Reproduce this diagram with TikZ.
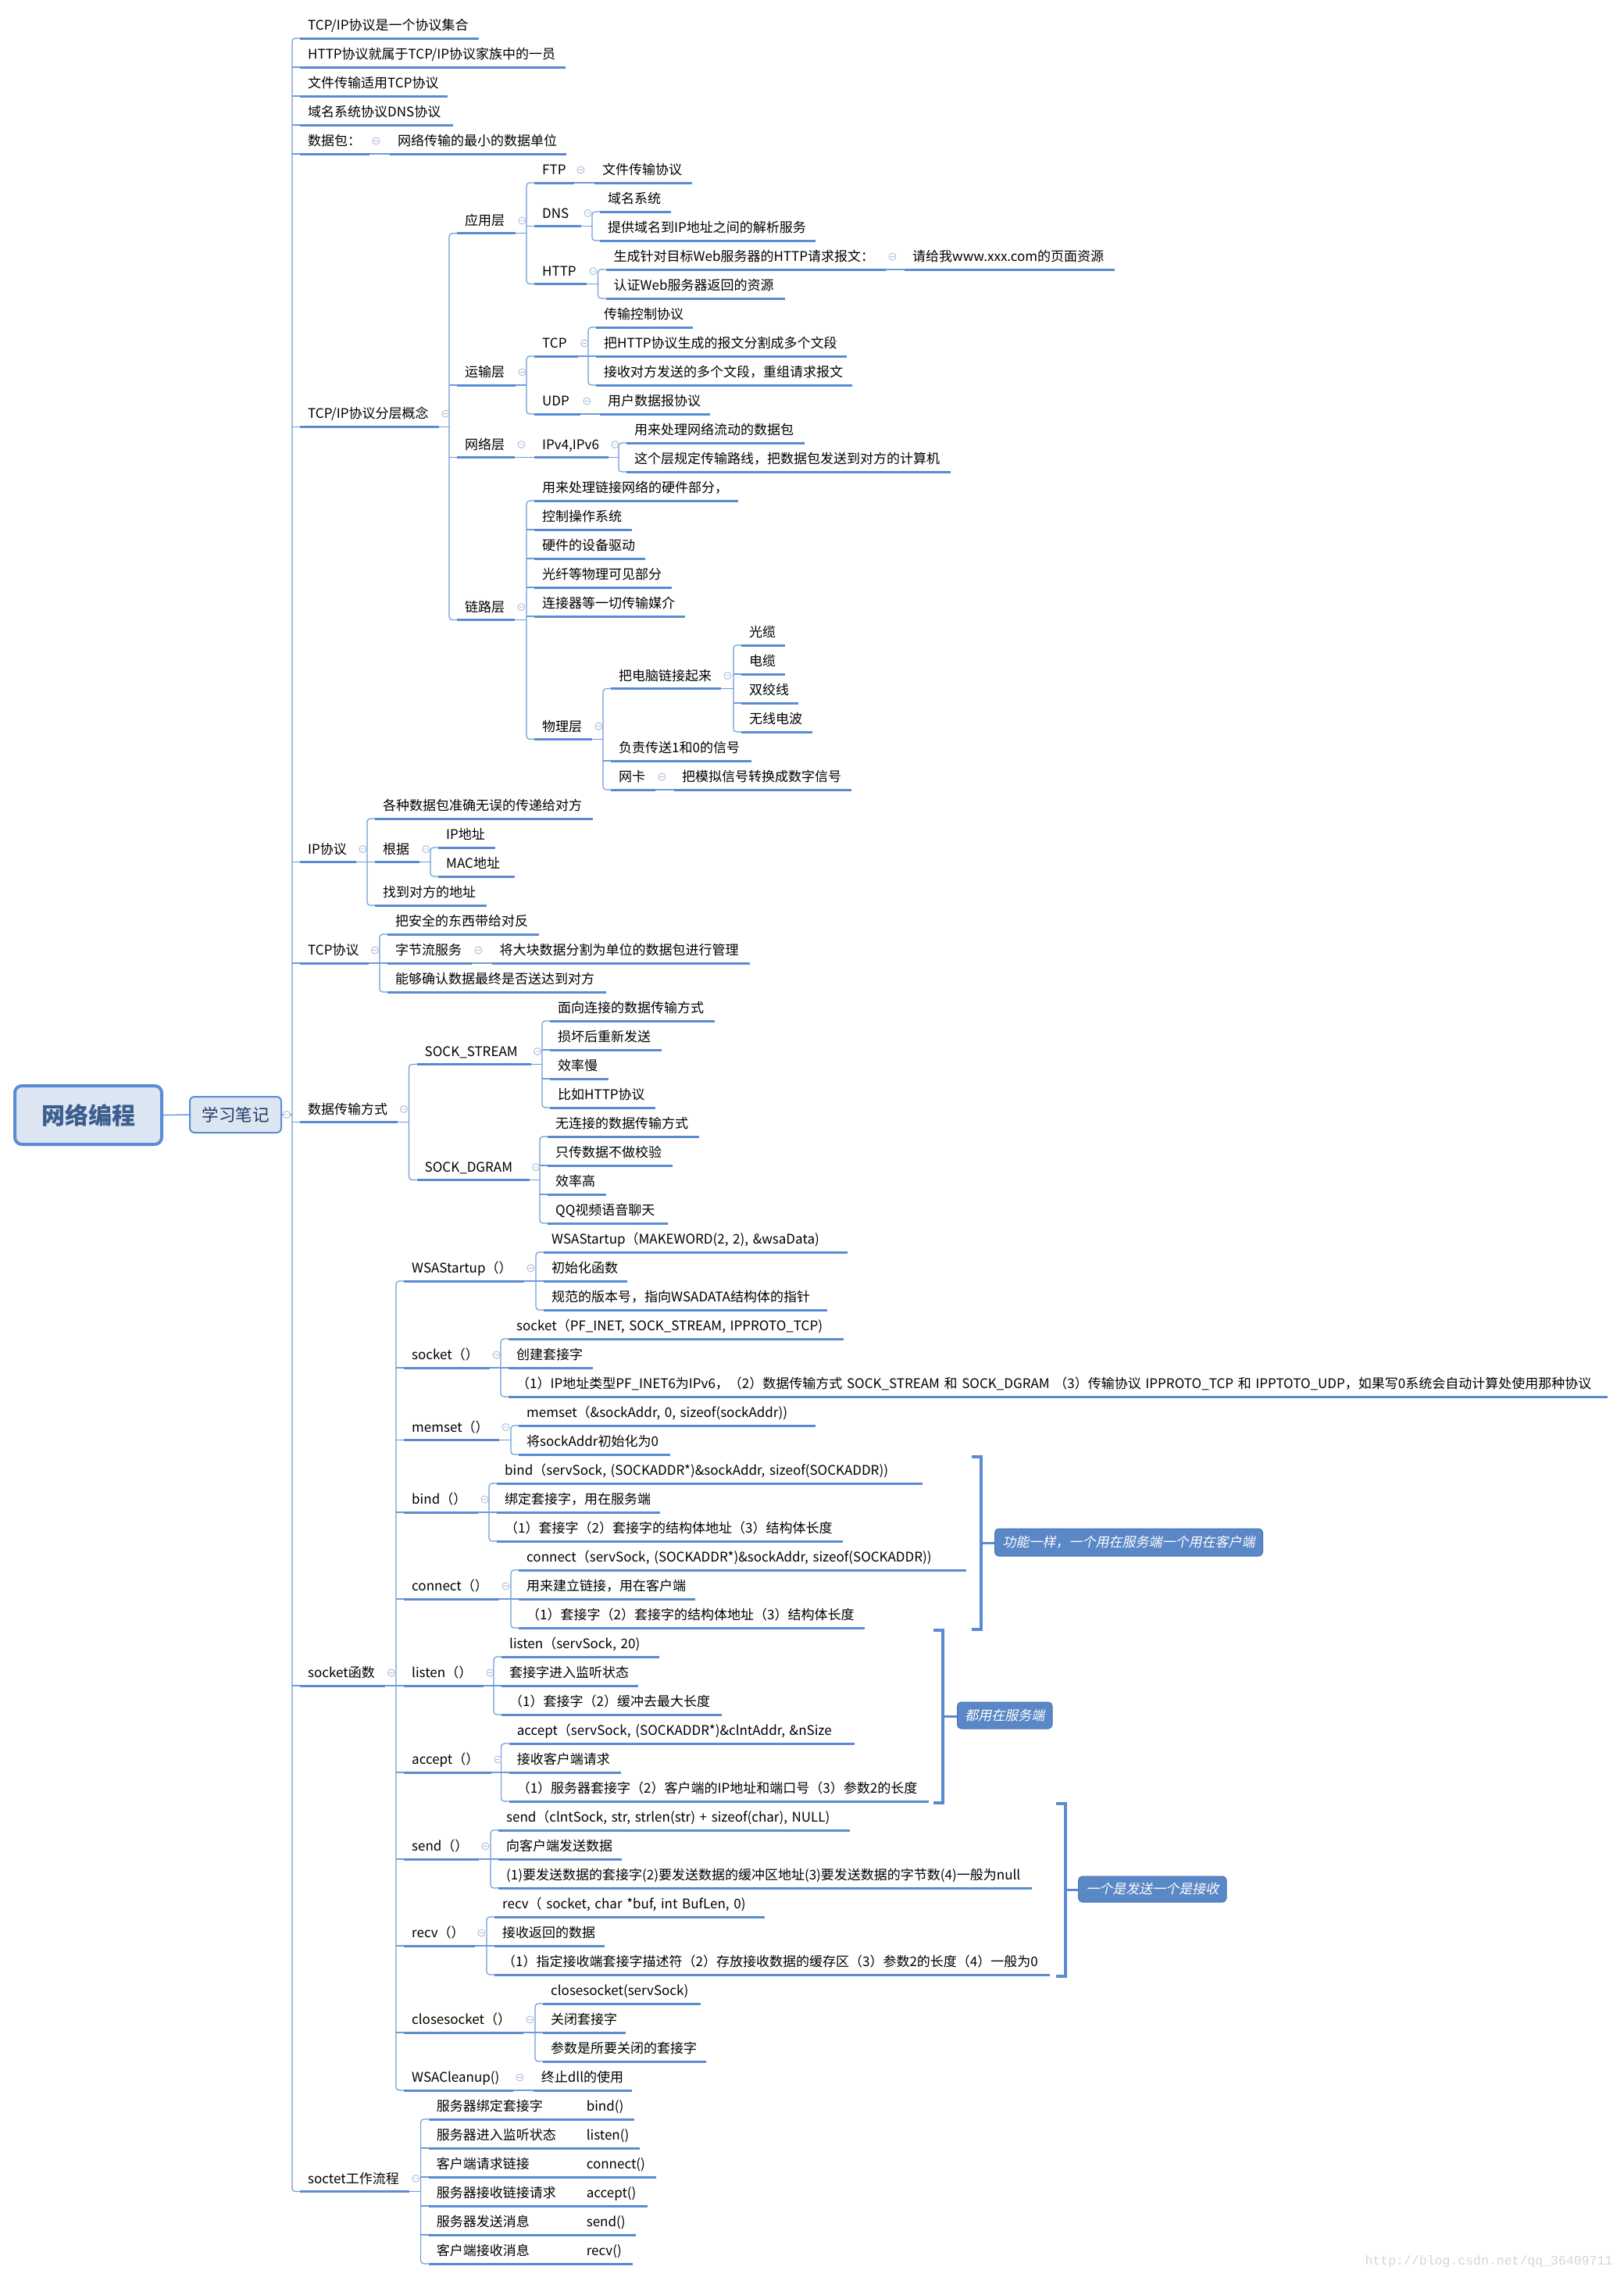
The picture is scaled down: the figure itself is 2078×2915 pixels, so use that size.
\documentclass[tikz,border=0pt]{standalone}
\usepackage{fontspec}
\setmainfont{Noto Sans CJK SC}
\newfontfamily\cjkit{Noto Sans CJK SC}[FakeSlant=0.2]
\newfontfamily\wmfont{Liberation Mono}
\usetikzlibrary{calc}
\definecolor{ul}{HTML}{5A8BD2}
\definecolor{cn}{HTML}{6F9BD8}
\definecolor{mk}{HTML}{A8BBD6}
\definecolor{rootfill}{HTML}{DCE6F2}
\definecolor{rootdraw}{HTML}{5B8DD4}
\definecolor{roottext}{HTML}{3D5D8E}
\definecolor{subtext}{HTML}{1F3A64}
\definecolor{sumfill}{HTML}{5A87C6}
\definecolor{sumdraw}{HTML}{4A76B4}
\definecolor{wmgray}{HTML}{D6D6D0}
\newcommand\topicnode[5]{\pgfmathsetmacro\tpw{#3-#2-20}%
  \node[tp,text width=\tpw pt] (#1) at (#2,{49+37*(#4)}) {\mbox{#5}};%
  \draw[uline] (#1.south west) -- (#1.south east);}
\newcommand\mmark[1]{\draw[mkstyle] ($(#1.south east)+(8,-16.5)$) circle (4.5pt) ++(-2.5,0) -- ++(5,0);}
\newcommand\mmbranch[3]{\draw[conn,rounded corners=4pt] (#2.south west) -- ++(-10,0) |- (#3.south west);%
  \draw[conn] (#1.south east) -- ($(#1.south east -| #2.south west)+(-10,0)$);\mmark{#1}}
\newcommand\midc[1]{\draw[conn] (#1.south west) -- ++(-10,0);}
\newcommand\mmsingle[2]{\draw[conn] (#1.south east) -- (#2.south west);\mmark{#1}}
\begin{document}
\begin{tikzpicture}[x=1pt,y=-1pt,
  tp/.style={anchor=south west, inner xsep=10pt, inner ysep=0pt, text height=14pt, text depth=10pt, align=left, font=\fontsize{17}{20}\selectfont},
  uline/.style={draw=ul, line width=3pt},
  conn/.style={draw=cn, line width=1.2pt},
  mkstyle/.style={draw=mk, fill=white, line width=0.9pt},
  brk/.style={draw=ul, line width=3.5pt},
  sumbox/.style={fill=sumfill, draw=sumdraw, line width=1pt, rounded corners=5pt, text=white, inner sep=0pt, font=\cjkit\fontsize{17}{20}\selectfont},
  rootbox/.style={fill=rootfill, draw=rootdraw, line width=4pt, rounded corners=9pt, minimum width=188pt, minimum height=75pt, text=roottext, font=\fontsize{30}{34}\selectfont\bfseries},
  subbox/.style={fill=rootfill, draw=rootdraw, line width=2pt, rounded corners=6pt, minimum width=117pt, minimum height=46pt, text=subtext, font=\fontsize{21.5}{24}\selectfont},
  wm/.style={text=wmgray, font=\wmfont\fontsize{16.5}{18}\selectfont}]
\fill[white] (0,0) rectangle (2078,2915);
\useasboundingbox (0,0) rectangle (2078,2915);

% root
\node[rootbox] (root) at (113,1427.5) {网络编程};
\node[subbox] (note) at (301.5,1427) {学习笔记};

% level 1
\topicnode{t1}{384}{613}{0}{TCP/IP协议是一个协议集合}
\topicnode{t2}{384}{724}{1}{HTTP协议就属于TCP/IP协议家族中的一员}
\topicnode{t3}{384}{573}{2}{文件传输适用TCP协议}
\topicnode{t4}{384}{580}{3}{域名系统协议DNS协议}
\topicnode{t5}{384}{473}{4}{数据包：}
\topicnode{t5a}{499}{725}{4}{网络传输的最小的数据单位}
\topicnode{t6}{384}{562}{13.4375}{TCP/IP协议分层概念}
\topicnode{app}{585}{660}{6.75}{应用层}
\topicnode{ftp}{684}{735}{5}{FTP}
\topicnode{ftpa}{761}{886}{5}{文件传输协议}
\topicnode{dns}{684}{744}{6.5}{DNS}
\topicnode{dnsa}{768}{859}{6}{域名系统}
\topicnode{dnsb}{768}{1044}{7}{提供域名到IP地址之间的解析服务}
\topicnode{http}{684}{751}{8.5}{HTTP}
\topicnode{httpa}{775.5}{1134}{8}{生成针对目标Web服务器的HTTP请求报文：}
\topicnode{httpa1}{1158}{1427}{8}{请给我www.xxx.com的页面资源}
\topicnode{httpb}{775.5}{1005}{9}{认证Web服务器返回的资源}
\topicnode{trans}{585}{660}{12}{运输层}
\topicnode{tcp}{684}{740}{11}{TCP}
\topicnode{tcpa}{763}{887}{10}{传输控制协议}
\topicnode{tcpb}{763}{1084}{11}{把HTTP协议生成的报文分割成多个文段}
\topicnode{tcpc}{763}{1091}{12}{接收对方发送的多个文段，重组请求报文}
\topicnode{udp}{684}{743}{13}{UDP}
\topicnode{udpa}{768}{909}{13}{用户数据报协议}
\topicnode{net}{585}{659}{14.5}{网络层}
\topicnode{ipv}{684}{779}{14.5}{IPv4,IPv6}
\topicnode{ipva}{802}{1030}{14}{用来处理网络流动的数据包}
\topicnode{ipvb}{802}{1217}{15}{这个层规定传输路线，把数据包发送到对方的计算机}
\topicnode{link}{585}{659}{20.125}{链路层}
\topicnode{la}{684}{945}{16}{用来处理链接网络的硬件部分，}
\topicnode{lb}{684}{809}{17}{控制操作系统}
\topicnode{lc}{684}{826}{18}{硬件的设备驱动}
\topicnode{ld}{684}{860}{19}{光纤等物理可见部分}
\topicnode{le}{684}{877}{20}{连接器等一切传输媒介}
\topicnode{phy}{684}{758}{24.25}{物理层}
\topicnode{pa}{782}{923}{22.5}{把电脑链接起来}
\topicnode{pa1}{949}{1005}{21}{光缆}
\topicnode{pa2}{949}{1005}{22}{电缆}
\topicnode{pa3}{949}{1022}{23}{双绞线}
\topicnode{pa4}{949}{1040}{24}{无线电波}
\topicnode{pb}{782}{962}{25}{负责传送1和0的信号}
\topicnode{pc}{782}{839}{26}{网卡}
\topicnode{pc1}{863}{1090}{26}{把模拟信号转换成数字信号}
\topicnode{t7}{384}{456}{28.5}{IP协议}
\topicnode{ipa}{480}{759}{27}{各种数据包准确无误的传递给对方}
\topicnode{ipb}{480}{537}{28.5}{根据}
\topicnode{ipb1}{561}{634}{28}{IP地址}
\topicnode{ipb2}{561}{659}{29}{MAC地址}
\topicnode{ipc}{480}{623}{30}{找到对方的地址}
\topicnode{t8}{384}{471.5}{32}{TCP协议}
\topicnode{tca}{496}{690}{31}{把安全的东西带给对反}
\topicnode{tcb}{496}{604}{32}{字节流服务}
\topicnode{tcb1}{629.5}{960}{32}{将大块数据分割为单位的数据包进行管理}
\topicnode{tcc}{496}{776}{33}{能够确认数据最终是否送达到对方}
\topicnode{t9}{384}{508.5}{37.5}{数据传输方式}
\topicnode{ss}{533.5}{679.6}{35.5}{SOCK\_STREAM}
\topicnode{ssa}{704}{915}{34}{面向连接的数据传输方式}
\topicnode{ssb}{704}{847}{35}{损坏后重新发送}
\topicnode{ssc}{704}{778.5}{36}{效率慢}
\topicnode{ssd}{704}{838.5}{37}{比如HTTP协议}
\topicnode{sd}{533.5}{677.7}{39.5}{SOCK\_DGRAM}
\topicnode{sda}{701}{895}{38}{无连接的数据传输方式}
\topicnode{sdb}{701}{861}{39}{只传数据不做校验}
\topicnode{sdc}{701}{776}{40}{效率高}
\topicnode{sdd}{701}{854.6}{41}{QQ视频语音聊天}
\topicnode{t10}{384}{492.5}{57}{socket函数}
\topicnode{wsa}{517}{671}{43}{WSAStartup（）}
\topicnode{wsaa}{696}{1085}{42}{WSAStartup（MAKEWORD(2, 2), \&wsaData)}
\topicnode{wsab}{696}{803}{43}{初始化函数}
\topicnode{wsac}{696}{1059}{44}{规范的版本号，指向WSADATA结构体的指针}
\topicnode{sk}{517}{627}{46}{socket（）}
\topicnode{ska}{651}{1080}{45}{socket（PF\_INET, SOCK\_STREAM, IPPROTO\_TCP)}
\topicnode{skb}{651}{759}{46}{创建套接字}
\topicnode{skc}{651}{2058}{47}{（1）IP地址类型PF\_INET6为IPv6，（2）数据传输方式 SOCK\_STREAM 和 SOCK\_DGRAM （3）传输协议 IPPROTO\_TCP 和 IPPTOTO\_UDP，如果写0系统会自动计算处使用那种协议}
\topicnode{ms}{517}{639}{48.5}{memset（）}
\topicnode{msa}{664}{1044}{48}{memset（\&sockAddr, 0, sizeof(sockAddr))}
\topicnode{msb}{664}{858}{49}{将sockAddr初始化为0}
\topicnode{bd}{517}{612}{51}{bind（）}
\topicnode{bda}{636}{1180.6}{50}{bind（servSock, (SOCKADDR*)\&sockAddr, sizeof(SOCKADDR))}
\topicnode{bdb}{636}{845}{51}{绑定套接字，用在服务端}
\topicnode{bdc}{636}{1078.6}{52}{（1）套接字（2）套接字的结构体地址（3）结构体长度}
\topicnode{cn}{517}{639}{54}{connect（）}
\topicnode{cna}{664}{1237}{53}{connect（servSock, (SOCKADDR*)\&sockAddr, sizeof(SOCKADDR))}
\topicnode{cnb}{664}{890}{54}{用来建立链接，用在客户端}
\topicnode{cnc}{664}{1107}{55}{（1）套接字（2）套接字的结构体地址（3）结构体长度}
\topicnode{ls}{517}{619}{57}{listen（）}
\topicnode{lsa}{642}{843.5}{56}{listen（servSock, 20)}
\topicnode{lsb}{642}{817}{57}{套接字进入监听状态}
\topicnode{lsc}{642}{923.5}{58}{（1）套接字（2）缓冲去最大长度}
\topicnode{ac}{517}{629}{60}{accept（）}
\topicnode{aca}{651.6}{1094}{59}{accept（servSock, (SOCKADDR*)\&clntAddr, \&nSize}
\topicnode{acb}{651.6}{794.5}{60}{接收客户端请求}
\topicnode{acc}{651.6}{1189}{61}{（1）服务器套接字（2）客户端的IP地址和端口号（3）参数2的长度}
\topicnode{sn}{517}{613}{63}{send（）}
\topicnode{sna}{638}{1088}{62}{send（clntSock, str, strlen(str) + sizeof(char), NULL)}
\topicnode{snb}{638}{796}{63}{向客户端发送数据}
\topicnode{snc}{638}{1321}{64}{(1)要发送数据的套接字(2)要发送数据的缓冲区地址(3)要发送数据的字节数(4)一般为null}
\topicnode{rv}{517}{608}{66}{recv（）}
\topicnode{rva}{633}{979}{65}{recv（ socket, char *buf, int BufLen, 0)}
\topicnode{rvb}{633}{774}{66}{接收返回的数据}
\topicnode{rvc}{633}{1344}{67}{（1）指定接收端套接字描述符（2）存放接收数据的缓存区（3）参数2的长度（4）一般为0}
\topicnode{cs}{517}{670}{69}{closesocket（）}
\topicnode{csa}{695}{896.5}{68}{closesocket(servSock)}
\topicnode{csb}{695}{801}{69}{关闭套接字}
\topicnode{csc}{695}{904}{70}{参数是所要关闭的套接字}
\topicnode{wc}{517}{657}{71}{WSACleanup()}
\topicnode{wca}{682.7}{809}{71}{终止dll的使用}
\topicnode{t11}{384}{524}{74.5}{soctet工作流程}
\topicnode{f1}{548.6}{812}{72}{\makebox[192pt][l]{服务器绑定套接字}bind()}
\topicnode{f2}{548.6}{818.6}{73}{\makebox[192pt][l]{服务器进入监听状态}listen()}
\topicnode{f3}{548.6}{840}{74}{\makebox[192pt][l]{客户端请求链接}connect()}
\topicnode{f4}{548.6}{829}{75}{\makebox[192pt][l]{服务器接收链接请求}accept()}
\topicnode{f5}{548.6}{814}{76}{\makebox[192pt][l]{服务器发送消息}send()}
\topicnode{f6}{548.6}{810}{77}{\makebox[192pt][l]{客户端接收消息}recv()}

% root connectors
\draw[conn,line width=1.5pt] (root.east) -- (note.west);
\draw[conn,rounded corners=4pt] (t1.south west) -- ++(-10,0) |- (t11.south west);
\foreach \n in {t2,t3,t4,t5,t6,t7,t8,t9,t10} {\midc{\n}}
\draw[conn] (note.east) -- ($(note.east -| t1.south west)+(-10,0)$);
\draw[mkstyle] ($(note.east)+(6,0)$) circle (4.5pt) ++(-2.5,0) -- ++(5,0);

% branches
\mmsingle{t5}{t5a}
\mmbranch{t6}{app}{link} \midc{trans} \midc{net}
\mmbranch{app}{ftp}{http} \midc{dns}
\mmsingle{ftp}{ftpa}
\mmbranch{dns}{dnsa}{dnsb}
\mmbranch{http}{httpa}{httpb}
\mmsingle{httpa}{httpa1}
\mmbranch{trans}{tcp}{udp}
\mmbranch{tcp}{tcpa}{tcpc} \midc{tcpb}
\mmsingle{udp}{udpa}
\mmsingle{net}{ipv}
\mmbranch{ipv}{ipva}{ipvb}
\mmbranch{link}{la}{phy} \midc{lb} \midc{lc} \midc{ld} \midc{le}
\mmbranch{phy}{pa}{pc} \midc{pb}
\mmbranch{pa}{pa1}{pa4} \midc{pa2} \midc{pa3}
\mmsingle{pc}{pc1}
\mmbranch{t7}{ipa}{ipc} \midc{ipb}
\mmbranch{ipb}{ipb1}{ipb2}
\mmbranch{t8}{tca}{tcc} \midc{tcb}
\mmsingle{tcb}{tcb1}
\mmbranch{t9}{ss}{sd}
\mmbranch{ss}{ssa}{ssd} \midc{ssb} \midc{ssc}
\mmbranch{sd}{sda}{sdd} \midc{sdb} \midc{sdc}
\mmbranch{t10}{wsa}{wc}
\foreach \n in {sk,ms,bd,cn,ls,ac,sn,rv,cs} {\midc{\n}}
\mmbranch{wsa}{wsaa}{wsac} \midc{wsab}
\mmbranch{sk}{ska}{skc} \midc{skb}
\mmbranch{ms}{msa}{msb}
\mmbranch{bd}{bda}{bdc} \midc{bdb}
\mmbranch{cn}{cna}{cnc} \midc{cnb}
\mmbranch{ls}{lsa}{lsc} \midc{lsb}
\mmbranch{ac}{aca}{acc} \midc{acb}
\mmbranch{sn}{sna}{snc} \midc{snb}
\mmbranch{rv}{rva}{rvc} \midc{rvb}
\mmbranch{cs}{csa}{csc} \midc{csb}
\mmsingle{wc}{wca}
\mmbranch{t11}{f1}{f6} \midc{f2} \midc{f3} \midc{f4} \midc{f5}

% summaries
\node[sumbox,minimum width=343pt,minimum height=35pt] (s1) at (1445,1974.5) {功能一样，一个用在服务端一个用在客户端};
\node[sumbox,minimum width=121.5pt,minimum height=34pt] (s2) at (1286.25,2196) {都用在服务端};
\node[sumbox,minimum width=189.4pt,minimum height=33pt] (s3) at (1475.3,2418.5) {一个是发送一个是接收};
\coordinate (b1t) at (1244,1865); \coordinate (b1b) at (1244,2086); \coordinate (b1m) at (1256,1975.5);
\coordinate (b2t) at (1195,2087); \coordinate (b2b) at (1195,2308); \coordinate (b2m) at (1207,2197.5);
\coordinate (b3t) at (1352,2309); \coordinate (b3b) at (1352,2530); \coordinate (b3m) at (1364,2419.5);
\draw[brk] (b1t) -- (b1t -| b1m) -- (b1b -| b1m) -- (b1b);
\draw[brk] (b1m) -- (b1m -| s1.west);
\draw[brk] (b2t) -- (b2t -| b2m) -- (b2b -| b2m) -- (b2b);
\draw[brk] (b2m) -- (b2m -| s2.west);
\draw[brk] (b3t) -- (b3t -| b3m) -- (b3b -| b3m) -- (b3b);
\draw[brk] (b3m) -- (b3m -| s3.west);

% watermark
\node[wm] (wmk) at (1906,2895) {http://blog.csdn.net/qq\_36409711};
\end{tikzpicture}
\end{document}
